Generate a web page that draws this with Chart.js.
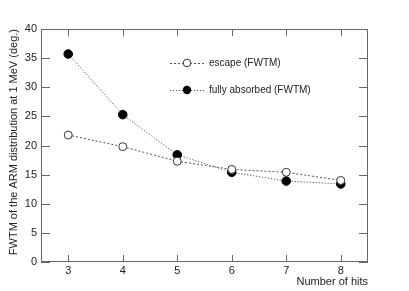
<!DOCTYPE html>
<html><head><meta charset="utf-8">
<script src="https://cdn.jsdelivr.net/npm/chart.js@4/dist/chart.umd.min.js"></script>
<style>html,body{margin:0;padding:0;background:#fff;}#wrap{width:409px;height:291px;}</style>
</head><body><div id="wrap"><canvas id="c" width="409" height="291"></canvas></div>
<script>
const hits = [3, 4, 5, 6, 7, 8];
const escapeFWTM = [21.8, 19.8, 17.3, 15.9, 15.4, 14.0];
const absorbedFWTM = [35.7, 25.3, 18.4, 15.4, 13.9, 13.4];
const yTicks = [0, 5, 10, 15, 20, 25, 30, 35, 40];
const legendLabels = ['escape (FWTM)', 'fully absorbed (FWTM)'];

const FONT = '"Liberation Sans", Arial, sans-serif';
const LINE = '#555';

const framePlugin = {
  id: 'frame',
  afterDraw(chart) {
    const {ctx, chartArea: a, scales: {x, y}} = chart;
    ctx.save();
    ctx.strokeStyle = '#666';
    ctx.lineWidth = 1;
    ctx.strokeRect(a.left + 0.5, a.top + 0.5, a.right - a.left - 1, a.bottom - a.top - 1);
    ctx.beginPath();
    hits.forEach(v => {
      const px = Math.round(x.getPixelForValue(v)) + 0.5;
      ctx.moveTo(px, a.bottom); ctx.lineTo(px, a.bottom - 7);
      ctx.moveTo(px, a.top); ctx.lineTo(px, a.top + 7);
    });
    yTicks.forEach(v => {
      const py = Math.round(y.getPixelForValue(v)) + 0.5;
      ctx.moveTo(a.left, py); ctx.lineTo(a.left + 9, py);
      ctx.moveTo(a.right, py); ctx.lineTo(a.right - 9, py);
    });
    ctx.stroke();
    // legend
    const items = [
      {label: legendLabels[0], dash: [2, 2], filled: false, y: 63},
      {label: legendLabels[1], dash: [1.2, 1.8], filled: true, y: 90}
    ];
    items.forEach(it => {
      ctx.strokeStyle = LINE;
      ctx.setLineDash(it.dash);
      ctx.beginPath();
      ctx.moveTo(170, it.y + 0.5); ctx.lineTo(206, it.y + 0.5);
      ctx.stroke();
      ctx.setLineDash([]);
      ctx.beginPath();
      ctx.arc(187, it.y, it.filled ? 4.2 : 3.8, 0, Math.PI * 2);
      if (it.filled) { ctx.fillStyle = '#000'; ctx.fill(); }
      else { ctx.fillStyle = '#fff'; ctx.fill(); ctx.strokeStyle = '#333'; ctx.stroke(); }
      ctx.fillStyle = '#222';
      ctx.font = '10px ' + FONT;
      ctx.textBaseline = 'middle';
      ctx.textAlign = 'left';
      ctx.fillText(it.label, 209, it.y);
    });
    ctx.restore();
  }
};

new Chart(document.getElementById('c'), {
  type: 'line',
  data: {
    datasets: [
      {
        label: legendLabels[0],
        data: hits.map((h, i) => ({x: h, y: escapeFWTM[i]})),
        borderColor: LINE, borderWidth: 1, borderDash: [2, 2],
        pointRadius: 4, pointBackgroundColor: '#fff', pointBorderColor: '#333', pointBorderWidth: 1,
        fill: false, tension: 0
      },
      {
        label: legendLabels[1],
        data: hits.map((h, i) => ({x: h, y: absorbedFWTM[i]})),
        borderColor: LINE, borderWidth: 1, borderDash: [1.2, 1.8],
        pointRadius: 4.3, pointBackgroundColor: '#000', pointBorderColor: '#000', pointBorderWidth: 1,
        fill: false, tension: 0
      }
    ]
  },
  options: {
    responsive: false, animation: false, devicePixelRatio: 1,
    layout: {padding: {left: 0, right: 41, top: 29, bottom: 0}},
    plugins: {legend: {display: false}, tooltip: {enabled: false}},
    scales: {
      x: {
        type: 'linear', min: 2.5, max: 8.5,
        afterBuildTicks: s => { s.ticks = hits.map(v => ({value: v})); },
        afterFit: s => { s.height = 29; },
        grid: {display: false, drawTicks: false},
        border: {display: false},
        ticks: {color: '#222', font: {family: FONT, size: 11}, padding: 2, callback: v => String(v)},
        title: {display: true, text: 'Number of hits', align: 'end', color: '#222',
                font: {family: FONT, size: 11}, padding: {top: 0, bottom: 2}}
      },
      y: {
        min: 0, max: 40,
        afterBuildTicks: s => { s.ticks = yTicks.map(v => ({value: v})); },
        afterFit: s => { s.width = 41; },
        grid: {display: false, drawTicks: false},
        border: {display: false},
        ticks: {color: '#222', font: {family: FONT, size: 11}, padding: 4},
        title: {display: true, text: 'FWTM of the ARM distribution at 1 MeV (deg.)', align: 'end', color: '#222',
                font: {family: FONT, size: 11}, padding: {top: 7, bottom: 0}}
      }
    }
  },
  plugins: [framePlugin]
});
</script></body></html>
